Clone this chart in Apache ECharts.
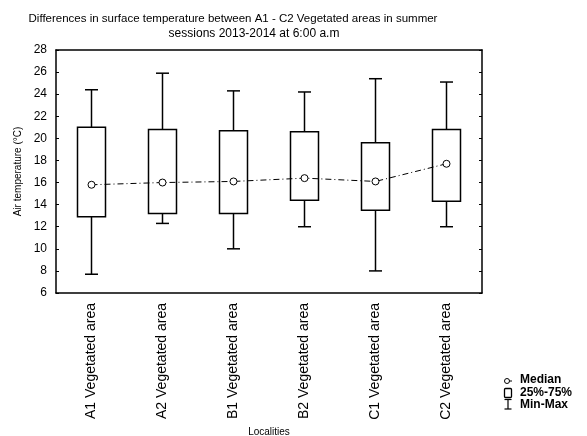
<!DOCTYPE html>
<html><head><meta charset="utf-8">
<script src="https://cdn.jsdelivr.net/npm/echarts@6/dist/echarts.min.js"></script>
<style>html,body{margin:0;padding:0;background:#fff}#c{width:587px;height:436px}</style>
</head><body><div id="c"></div>
<script>
var categories = ['A1 Vegetated area','A2 Vegetated area','B1 Vegetated area','B2 Vegetated area','C1 Vegetated area','C2 Vegetated area'];
var minVals = [7.7, 12.3, 10.0, 12.0, 8.0, 12.0];
var q1Vals = [12.9, 13.2, 13.2, 14.4, 13.5, 14.3];
var medianVals = [15.8, 16.0, 16.1, 16.4, 16.1, 17.7];
var q3Vals = [21.0, 20.8, 20.7, 20.6, 19.6, 20.8];
var maxVals = [24.4, 25.9, 24.3, 24.2, 25.4, 25.1];
var yTicks = {min: 6, max: 28, interval: 2};

var boxData = categories.map(function(c, i){ return [i, minVals[i], q1Vals[i], medianVals[i], q3Vals[i], maxVals[i]]; });
var F = 'Liberation Sans, Arial, sans-serif';
var chart = echarts.init(document.getElementById('c'), null, {renderer:'canvas'});
chart.setOption({
  animation:false,
  backgroundColor:'#fff',
  title:[
    {text:'Differences in surface temperature between A1 - C2 Vegetated areas in summer', left:228, top:8, textAlign:'center',
     textStyle:{fontSize:11.5, fontWeight:'normal', color:'#000', fontFamily:F}},
    {text:'sessions 2013-2014 at 6:00 a.m', left:249, top:23, textAlign:'center',
     textStyle:{fontSize:12, fontWeight:'normal', color:'#000', fontFamily:F}}
  ],
  grid:{left:56, right:105, top:50, bottom:143, show:false, containLabel:false, outerBoundsMode:'none'},
  xAxis:[{
    type:'category', data:categories, position:'bottom', boundaryGap:true,
    axisLine:{lineStyle:{color:'#000', width:1.5}},
    axisTick:{inside:true, length:3, alignWithLabel:true, lineStyle:{color:'#000'}},
    axisLabel:{rotate:90, fontSize:14, color:'#000', margin:10, fontFamily:F},
    name:'Localities', nameLocation:'middle', nameGap:134,
    nameTextStyle:{fontSize:10, color:'#000', fontFamily:F}
  },{
    type:'category', data:categories, position:'top', boundaryGap:true,
    axisLine:{lineStyle:{color:'#000', width:1.5}},
    axisTick:{inside:true, length:3, alignWithLabel:true, lineStyle:{color:'#000'}},
    axisLabel:{show:false}
  }],
  yAxis:[{
    type:'value', min:yTicks.min, max:yTicks.max, interval:yTicks.interval, position:'left',
    axisLine:{show:true, lineStyle:{color:'#000', width:1.5}},
    axisTick:{show:true, inside:true, length:3, lineStyle:{color:'#000'}},
    axisLabel:{fontSize:12, color:'#000', margin:9, fontFamily:F},
    splitLine:{show:false},
    name:'Air temperature (°C)', nameLocation:'middle', nameGap:30, nameRotate:90,
    nameTextStyle:{fontSize:10, color:'#000', fontFamily:F}
  },{
    type:'value', min:yTicks.min, max:yTicks.max, interval:yTicks.interval, position:'right',
    axisLine:{show:true, lineStyle:{color:'#000', width:1.5}},
    axisTick:{show:true, inside:true, length:3, lineStyle:{color:'#000'}},
    axisLabel:{show:false}, splitLine:{show:false}
  }],
  series:[{
    type:'custom', xAxisIndex:0, yAxisIndex:0, data:boxData,
    encode:{x:0, y:[1,2,3,4,5]},
    renderItem:function(params, api){
      var x = api.value(0);
      var pMin = api.coord([x, api.value(1)]);
      var pQ1 = api.coord([x, api.value(2)]);
      var pQ3 = api.coord([x, api.value(4)]);
      var pMax = api.coord([x, api.value(5)]);
      var cx = pMin[0], bw = 28, cw = 13;
      var st = {stroke:'#000', lineWidth:1.5, fill:null};
      return {type:'group', children:[
        {type:'line', shape:{x1:cx, y1:pMax[1], x2:cx, y2:pQ3[1]}, style:st},
        {type:'line', shape:{x1:cx, y1:pQ1[1], x2:cx, y2:pMin[1]}, style:st},
        {type:'line', shape:{x1:cx-cw/2, y1:pMax[1], x2:cx+cw/2, y2:pMax[1]}, style:st},
        {type:'line', shape:{x1:cx-cw/2, y1:pMin[1], x2:cx+cw/2, y2:pMin[1]}, style:st},
        {type:'rect', shape:{x:cx-bw/2, y:pQ3[1], width:bw, height:pQ1[1]-pQ3[1]}, style:{stroke:'#000', lineWidth:1.5, fill:'#fff'}}
      ]};
    },
    z:2
  },{
    type:'line', xAxisIndex:0, yAxisIndex:0, data:medianVals,
    symbol:'circle', symbolSize:7,
    itemStyle:{color:'#fff', borderColor:'#000', borderWidth:1},
    lineStyle:{color:'#000', width:1, type:[6,3,1,3]},
    z:5
  }],
  graphic:[
    {type:'circle', shape:{cx:507, cy:381, r:2.5}, style:{stroke:'#000', fill:'#fff', lineWidth:1}},
    {type:'line', shape:{x1:509.5, y1:381, x2:512, y2:381}, style:{stroke:'#000', lineWidth:1}},
    {type:'rect', shape:{x:504.5, y:388.5, width:7, height:9, r:1}, style:{stroke:'#000', fill:'#fff', lineWidth:1.3}},
    {type:'line', shape:{x1:508, y1:399.5, x2:508, y2:409}, style:{stroke:'#000', lineWidth:1.2}},
    {type:'line', shape:{x1:504.5, y1:399.5, x2:511.5, y2:399.5}, style:{stroke:'#000', lineWidth:1.2}},
    {type:'line', shape:{x1:504.5, y1:409, x2:511.5, y2:409}, style:{stroke:'#000', lineWidth:1.2}},
    {type:'text', left:520, top:374, style:{text:'Median', fontSize:12, fontWeight:'bold', fill:'#000', fontFamily:F}},
    {type:'text', left:520, top:387, style:{text:'25%-75%', fontSize:12, fontWeight:'bold', fill:'#000', fontFamily:F}},
    {type:'text', left:520, top:399, style:{text:'Min-Max', fontSize:12, fontWeight:'bold', fill:'#000', fontFamily:F}}
  ]
});
</script></body></html>
